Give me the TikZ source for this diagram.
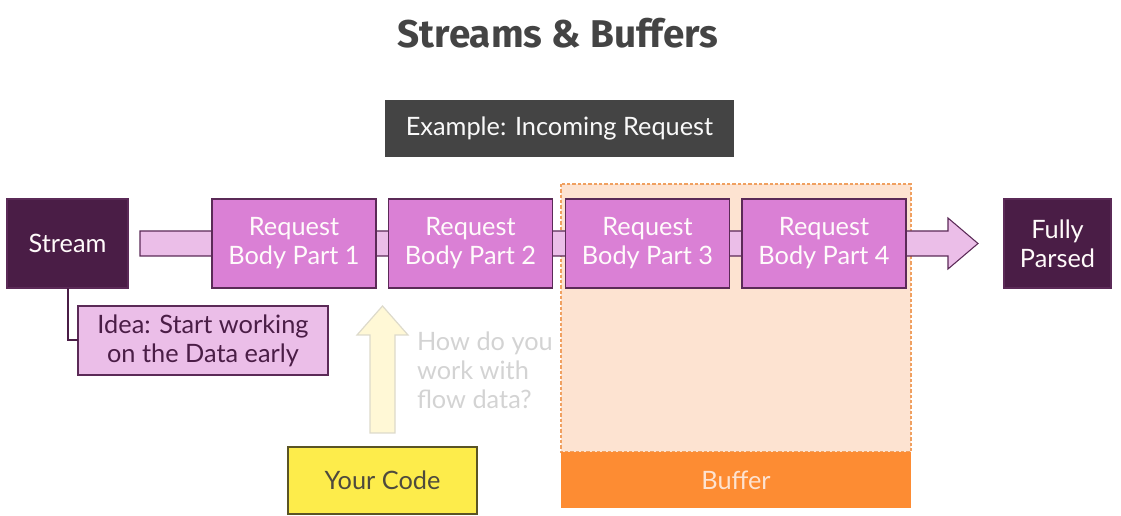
\documentclass[tikz,border=0pt]{standalone}
\usepackage{fontspec}
\setmainfont{Lato}
\newfontfamily\titlefont{Fira Sans}
\definecolor{dpurple}{HTML}{4A1D46}
\definecolor{bpink}{HTML}{DA80D5}
\definecolor{lpink}{HTML}{EBBEE8}
\definecolor{pstroke}{HTML}{5B2A57}
\definecolor{borange}{HTML}{FD8C33}
\definecolor{peach}{HTML}{FDE3D1}
\definecolor{dorange}{HTML}{F0A060}
\definecolor{ycode}{HTML}{FDEC4B}
\definecolor{ystroke}{HTML}{5A5425}
\definecolor{yarrow}{HTML}{FFF8D6}
\definecolor{yastroke}{HTML}{DDDACB}
\definecolor{qgray}{HTML}{D3D3D3}
\definecolor{tgray}{HTML}{444444}
\tikzset{
  base/.style={inner sep=0pt, outer sep=0pt, align=center, font=\fontsize{19}{21.75}\selectfont},
  darkbox/.style={base, fill=dpurple, draw=pstroke, line width=0.8pt, text=white!92!pink, minimum height=66.75pt},
  reqbox/.style={base, fill=bpink, draw=pstroke, line width=0.9pt, text=white!94!pink, minimum width=123pt, minimum height=66.75pt},
}
\begin{document}
\begin{tikzpicture}[x=0.75pt,y=-0.75pt]
\useasboundingbox (0,0) rectangle (1121,516);
% title
\node[base, font=\titlefont\bfseries\fontsize{29}{34}\selectfont, text=tgray] (title) at (558,33) {Streams \& Buffers};
% example
\node[base, fill=tgray, text=white!95!gray, minimum width=261.75pt, minimum height=42.75pt] (example) at (559.5,128.5) {Example: Incoming Request};
% buffer region
\draw[fill=peach, draw=dorange, dash pattern=on 2.5pt off 1.5pt, line width=0.9pt] (561,184) rectangle (911,452);
\node[base, fill=borange, text=peach, minimum width=262.5pt, minimum height=42pt] (buffer) at (736,480) {Buffer};
% band arrow
\draw[fill=lpink, draw=pstroke, line width=0.8pt, line join=miter]
  (140,231) -- (948,231) -- (948,218) -- (978,243.5) -- (948,269) -- (948,256) -- (140,256) -- cycle;
% nodes
\node[darkbox, minimum width=90.75pt] (stream) at (67.5,243.5) {Stream};
\node[reqbox] (p1) at (294,243.5) {Request\\Body Part 1};
\node[reqbox] (p2) at (470.5,243.5) {Request\\Body Part 2};
\node[reqbox] (p3) at (647.5,243.5) {Request\\Body Part 3};
\node[reqbox] (p4) at (824,243.5) {Request\\Body Part 4};
\node[darkbox, minimum width=80.25pt] (parsed) at (1057.5,243.5) {Fully\\Parsed};
\node[base, fill=lpink, draw=pstroke, line width=0.8pt, text=dpurple, minimum width=187.5pt, minimum height=51.75pt] (idea) at (203,340.5) {Idea: Start working\\on the Data early};
\draw[dpurple, line width=1.5pt] (stream.south -| 68,0) |- (idea.west);
% up arrow
\draw[fill=yarrow, draw=yastroke, line width=0.9pt, line join=miter]
  (370,433) -- (370,335) -- (357,335) -- (382.5,306) -- (408,335) -- (395,335) -- (395,433) -- cycle;
\node[base, align=left, anchor=west, text=qgray] (question) at (417,370) {How do you\\work with\\flow data?};
% your code
\node[base, fill=ycode, draw=ystroke, line width=0.8pt, text=black!80!yellow, minimum width=141.75pt, minimum height=50.25pt] (code) at (382.5,480.5) {Your Code};
\end{tikzpicture}
\end{document}
